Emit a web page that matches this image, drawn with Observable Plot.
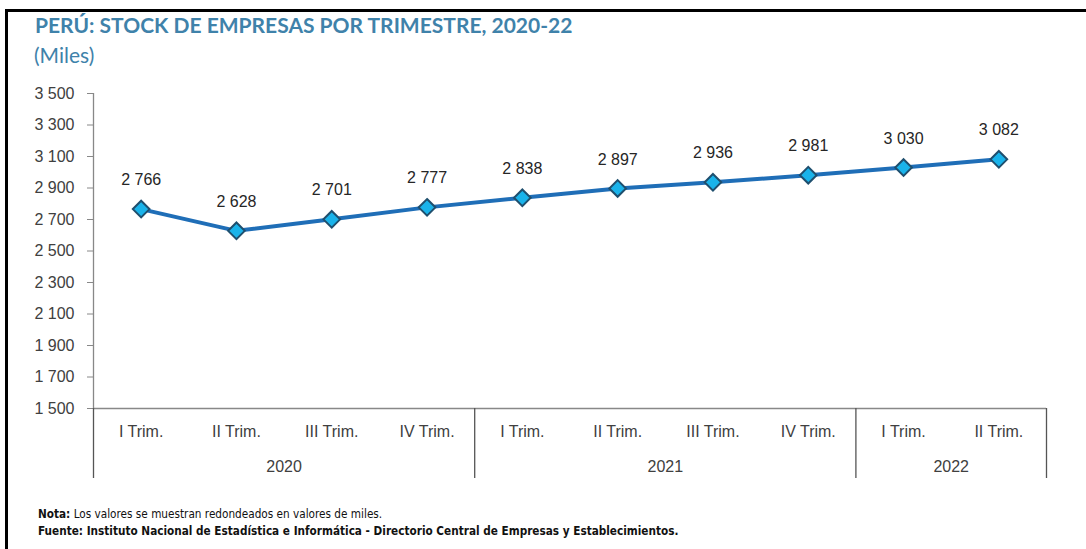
<!DOCTYPE html>
<html><head><meta charset="utf-8">
<script src="https://cdn.jsdelivr.net/npm/d3@7"></script>
<script src="https://cdn.jsdelivr.net/npm/@observablehq/plot@0.6"></script>
<style>
body{margin:0;background:#fff;width:1086px;height:549px;overflow:hidden;position:relative;font-family:"Liberation Sans",Arial,sans-serif}
#frame{position:absolute;left:5px;top:9px;width:1200px;height:700px;border-left:3px solid #000;border-top:3px solid #000}
#title{position:absolute;left:35px;top:12px;font-family:Lato,"Open Sans",sans-serif;font-weight:700;font-size:21px;color:#3f82aa;white-space:nowrap}
#sub{position:absolute;left:34px;top:42px;font-family:Lato,"Open Sans",sans-serif;font-size:21px;color:#3f82aa}
#chart{position:absolute;left:0;top:70px}
#foot{position:absolute;left:38px;top:505px;font-family:"Liberation Sans Narrow","Arial Narrow","DejaVu Sans Condensed",sans-serif;font-size:12.5px;color:#111;line-height:17px;white-space:nowrap;transform:scaleX(0.934);transform-origin:0 0}
</style>
</head><body>
<div id="frame"></div>
<div id="title">PERÚ: STOCK DE EMPRESAS POR TRIMESTRE, 2020-22</div>
<div id="sub">(Miles)</div>
<div id="chart"></div>
<div id="foot"><b>Nota:</b> Los valores se muestran redondeados en valores de miles.<br><b>Fuente: Instituto Nacional de Estadística e Informática - Directorio Central de Empresas y Establecimientos.</b></div>
<script>
const quarters = ["I Trim.","II Trim.","III Trim.","IV Trim.","I Trim.","II Trim.","III Trim.","IV Trim.","I Trim.","II Trim."];
const years = ["2020","2020","2020","2020","2021","2021","2021","2021","2022","2022"];
const values = [2766, 2628, 2701, 2777, 2838, 2897, 2936, 2981, 3030, 3082];
const yTicks = [1500, 1700, 1900, 2100, 2300, 2500, 2700, 2900, 3100, 3300, 3500];

const rows = values.map((v, i) => ({i, quarter: quarters[i], year: years[i], value: v}));
const yearGroups = d3.groups(rows, d => d.year).map(([y, g]) => ({year: y, mid: d3.mean(g, d => d.i), start: g[0].i - 0.5, end: g[g.length-1].i + 0.5}));
const separators = [...new Set(yearGroups.flatMap(g => [g.start, g.end]))];
const loc = d3.formatLocale({decimal: ",", thousands: " ", grouping: [3], currency: ["", ""]});
const fmt = loc.format(",d");

const chart = Plot.plot({
  width: 1086, height: 420,
  marginTop: 23, marginBottom: 82, marginLeft: 93, marginRight: 40,
  style: {fontFamily: "'Liberation Sans', Arial, sans-serif", fontSize: "16px", color: "#404040", background: "transparent"},
  x: {type: "linear", domain: [-0.5, rows.length - 0.5], label: null},
  y: {domain: [1500, 3500], label: null},
  marks: [
    Plot.ruleX([-0.5], {stroke: "#888", strokeWidth: 1.3}),
    Plot.ruleY([1500], {stroke: "#888", strokeWidth: 1.3}),
    Plot.axisY({ticks: yTicks, tickSize: 6, tickPadding: 13, tickFormat: fmt, stroke: "#888", fill: "#404040", fontSize: 16, label: null}),
    Plot.axisX({ticks: separators, tickSize: 70, tickFormat: () => "", stroke: "#555", strokeWidth: 1.3, label: null}),
    Plot.axisX({ticks: rows.map(d => d.i), tickSize: 0, tickPadding: 17, tickFormat: i => quarters[i], fill: "#404040", fontSize: 16, label: null}),
    Plot.axisX({ticks: yearGroups.map(d => d.mid), tickSize: 0, tickPadding: 52, tickFormat: m => yearGroups.find(g => g.mid === m).year, fill: "#404040", fontSize: 16, label: null}),
    Plot.line(rows, {x: "i", y: "value", stroke: "#1f6eb7", strokeWidth: 4}),
    Plot.dot(rows, {x: "i", y: "value", symbol: "diamond2", r: 7.5, fill: "#1ab3ea", stroke: "#1f4f6e", strokeWidth: 2}),
    Plot.text(rows, {x: "i", y: "value", text: d => fmt(d.value), dy: -29, fontSize: 16, fill: "#262626"})
  ]
});
document.getElementById("chart").appendChild(chart);
</script>
</body></html>
